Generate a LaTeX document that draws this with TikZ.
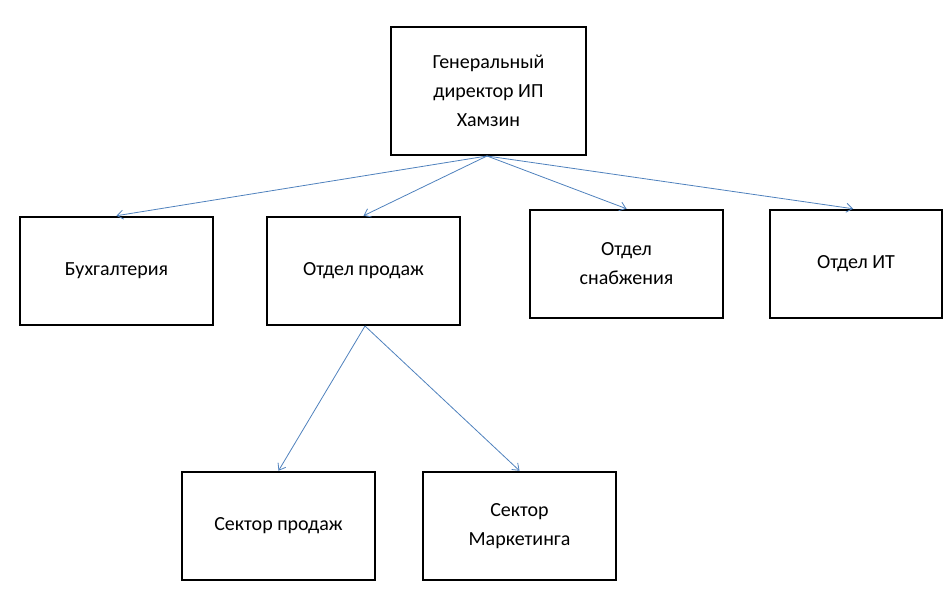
\documentclass[tikz,border=0pt]{standalone}
\usepackage{fontspec}
\setmainfont{Carlito}
\usetikzlibrary{arrows.meta}
\definecolor{ln}{RGB}{79,129,189}
\begin{document}
\begin{tikzpicture}[x=1pt,y=-1pt,
  box/.style={draw=black,line width=2.5pt,align=center,font=\fontsize{20}{29}\selectfont,inner sep=0pt},
  conn/.style={draw=ln,line width=0.8pt,-{Straight Barb[length=6pt,width=9pt]}}]
\useasboundingbox (0,0) rectangle (951,594);
\node[box,minimum width=195pt,minimum height=128pt] (g) at (488.5,91) {Генеральный\\директор ИП\\Хамзин};
\node[box,minimum width=193pt,minimum height=108pt] (b) at (116.5,271) {Бухгалтерия};
\node[box,minimum width=193pt,minimum height=108pt] (p) at (363.5,271) {Отдел продаж};
\node[box,minimum width=193pt,minimum height=108pt] (s) at (626.5,264) {Отдел\\снабжения};
\node[box,minimum width=172pt,minimum height=108pt] (it) at (856,264) {Отдел ИТ};
\node[box,minimum width=193pt,minimum height=108pt] (sp) at (278.5,526) {Сектор продаж};
\node[box,minimum width=193pt,minimum height=108pt] (sm) at (519.5,526) {Сектор\\Маркетинга};
\coordinate (gb) at (487,156);
\coordinate (pb) at (365,326);
\draw[conn] (gb) -- (b.north);
\draw[conn] (gb) -- (p.north);
\draw[conn] (gb) -- (s.north);
\draw[conn] (gb) -- ([xshift=-3pt]it.north);
\draw[conn] (pb) -- (sp.north);
\draw[conn] (pb) -- (sm.north);
\end{tikzpicture}
\end{document}
